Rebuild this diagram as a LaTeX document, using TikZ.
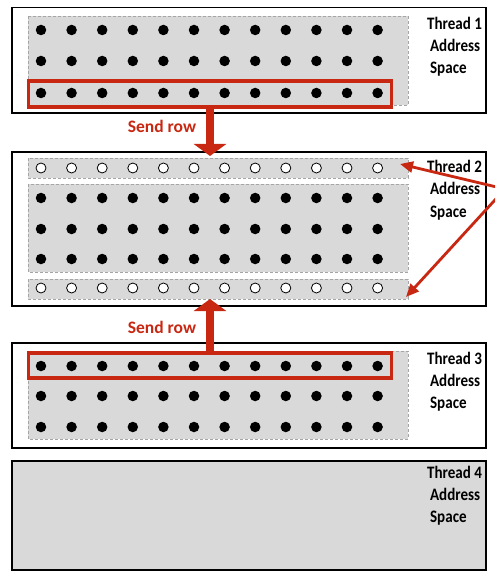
\documentclass[tikz,border=0pt]{standalone}
\usepackage{fontspec}
\setmainfont{Carlito}
\newfontfamily\lblfont{Carlito}[FakeStretch=0.86]
\usetikzlibrary{arrows.meta}
\definecolor{rd}{RGB}{200,40,18}
\definecolor{gr}{RGB}{217,217,217}
\definecolor{dg}{RGB}{165,165,165}
\begin{document}
\begin{tikzpicture}[x=1pt,y=-1pt,
  thread/.style={draw=black, line width=1.2pt, inner sep=0pt},
  mem/.style={fill=gr, draw=dg, dashed, dash pattern=on 3pt off 2pt, line width=0.8pt},
  fdot/.style={circle, fill=black, inner sep=0pt, minimum size=10.5pt},
  odot/.style={circle, fill=white, draw=black, line width=0.8pt, inner sep=0pt, minimum size=10pt},
  sel/.style={draw=rd, line width=3.5pt, inner sep=0pt},
  lbl/.style={font=\lblfont\fontsize{17.5}{22}\selectfont\bfseries, align=left, anchor=base west, inner sep=0pt},
  send/.style={text=rd, font=\fontsize{17.5}{18}\selectfont\bfseries, inner sep=0pt, anchor=base},
  big/.style={draw=rd, line width=8pt, -{Triangle[width=32pt,length=12pt]}},
  ptr/.style={draw=rd, line width=2.8pt, -{Triangle[width=11pt,length=13pt]}}]
\clip (0,0) rectangle (495,577);
\fill[white] (0,0) rectangle (495,577);
% Thread boxes
\draw[thread] (12,7.5) rectangle (486,113);
\draw[thread] (12,152) rectangle (486,306);
\draw[thread] (12,343) rectangle (486,448);
\draw[thread, fill=gr] (12,461) rectangle (486,570);
\coordinate (t2n) at (210,152);
\coordinate (t2s) at (210,306);
% memory blocks
\draw[mem] (28,16) rectangle (408,105);
\draw[mem] (28,158) rectangle (408,178);
\draw[mem] (28,184) rectangle (408,272);
\draw[mem] (28,279) rectangle (408,299);
\draw[mem] (28,351) rectangle (408,439);
% dots
\foreach \i in {0,...,11}{
  \pgfmathsetmacro\xx{41+30.6*\i}
  \node[fdot] (a1-\i) at (\xx,30) {};
  \node[fdot] (a2-\i) at (\xx,61) {};
  \node[fdot] (a3-\i) at (\xx,93) {};
  \node[odot] (b0-\i) at (\xx,168) {};
  \node[fdot] (b1-\i) at (\xx,198) {};
  \node[fdot] (b2-\i) at (\xx,229) {};
  \node[fdot] (b3-\i) at (\xx,259) {};
  \node[odot] (b4-\i) at (\xx,288) {};
  \node[fdot] (c1-\i) at (\xx,366) {};
  \node[fdot] (c2-\i) at (\xx,396) {};
  \node[fdot] (c3-\i) at (\xx,427) {};
}
% selected rows
\node[sel, minimum width=363pt, minimum height=26pt] (r1) at (210,94) {};
\node[sel, minimum width=363pt, minimum height=25pt] (r3) at (210,365.5) {};
% labels (anchored at the baseline of the last line)
\node[lbl] (l1) at (427,74) {Thread 1\\\,Address\\\,Space};
\node[lbl] (l2) at (427,217) {Thread 2\\\,Address\\\,Space};
\node[lbl] (l3) at (427,408) {Thread 3\\\,Address\\\,Space};
\node[lbl] (l4) at (427,522) {Thread 4\\\,Address\\\,Space};
% send arrows
\node[send] (s1) at (162,133) {Send row};
\node[send] (s2) at (162,333) {Send row};
\draw[big] (r1.south) -- ([yshift=-4pt]t2n);
\draw[big] (r3.north) -- ([yshift=7pt]t2s);
% pointers from the right
\coordinate (src) at (505,189);
\coordinate (p1) at (400,164);
\coordinate (p2) at (406,297);
\draw[ptr] (src) -- (p1);
\draw[ptr] (src) -- (p2);
\end{tikzpicture}
\end{document}
